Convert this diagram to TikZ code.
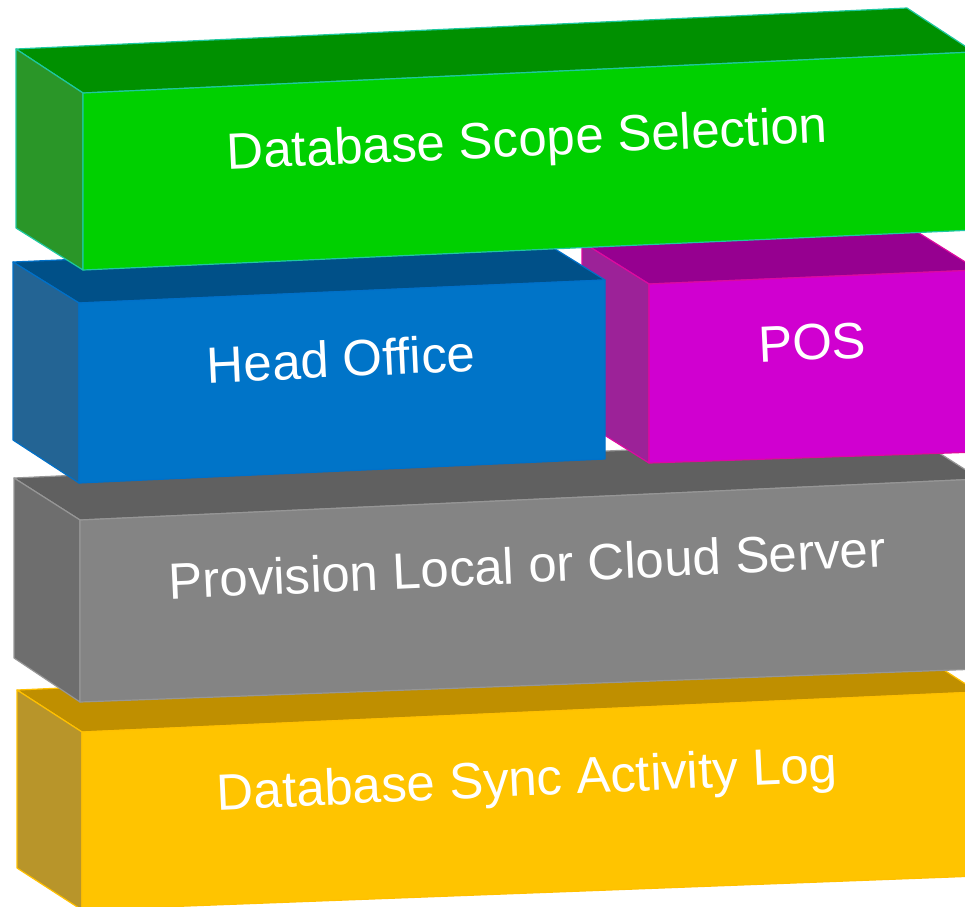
\documentclass[tikz,border=0pt]{standalone}
\usepackage{fontspec}
\setmainfont{Liberation Sans}
\definecolor{gTop}{RGB}{0,144,0}
\definecolor{gSide}{RGB}{42,150,40}
\definecolor{gFront}{RGB}{0,208,0}
\definecolor{gEdge}{RGB}{30,200,160}
\definecolor{bTop}{RGB}{0,80,136}
\definecolor{bSide}{RGB}{35,100,148}
\definecolor{bFront}{RGB}{0,116,200}
\definecolor{bEdge}{RGB}{0,112,200}
\definecolor{mTop}{RGB}{150,0,144}
\definecolor{mSide}{RGB}{156,34,152}
\definecolor{mFront}{RGB}{208,0,208}
\definecolor{mEdge}{RGB}{220,10,160}
\definecolor{kTop}{RGB}{96,96,96}
\definecolor{kSide}{RGB}{110,110,110}
\definecolor{kFront}{RGB}{132,132,132}
\definecolor{kEdge}{RGB}{150,150,150}
\definecolor{yTop}{RGB}{191,143,0}
\definecolor{ySide}{RGB}{184,149,42}
\definecolor{yFront}{RGB}{255,196,0}
\definecolor{yEdge}{RGB}{255,192,0}
\newcommand\slabfaces[5]{%
  \filldraw[slab, fill=#2, draw=#5] (#1BTL) -- (#1BTR) -- (#1FTR) -- (#1FTL) -- cycle;
  \filldraw[slab, fill=#3, draw=#5] (#1BTL) -- (#1FTL) -- (#1FBL) -- (#1BBL) -- cycle;
  \filldraw[slab, fill=#4, draw=#5] (#1FTL) -- (#1FTR) -- (#1FBR) -- (#1FBL) -- cycle;
}
\begin{document}
\begin{tikzpicture}[x=1pt,y=-1pt,
  slab/.style={line width=1.2pt, line join=round},
  lbl/.style={text=white, font=\fontsize{51}{60}\selectfont, rotate=2.6, anchor=base, inner sep=0pt}]
\clip (0,0) rectangle (965,906);
% yellow slab
\coordinate (yBTL) at (17,690);
\coordinate (yBTR) at (913,650);
\coordinate (yFTL) at (82,732);
\coordinate (yFTR) at (978,692);
\coordinate (yFBL) at (82,910);
\coordinate (yFBR) at (978,876);
\coordinate (yBBL) at (17,868);
\slabfaces{y}{yTop}{ySide}{yFront}{yEdge}
% gray slab
\coordinate (kBTL) at (14,478);
\coordinate (kBTR) at (914,437);
\coordinate (kFTL) at (80,520);
\coordinate (kFTR) at (980,479);
\coordinate (kFBL) at (80,702);
\coordinate (kFBR) at (980,669);
\coordinate (kBBL) at (14,658);
\slabfaces{k}{kTop}{kSide}{kFront}{kEdge}
% magenta slab
\coordinate (mBTL) at (582,242);
\coordinate (mBTR) at (911,228);
\coordinate (mFTL) at (649,284);
\coordinate (mFTR) at (978,270);
\coordinate (mFBL) at (649,463);
\coordinate (mFBR) at (978,452);
\coordinate (mBBL) at (582,421);
\slabfaces{m}{mTop}{mSide}{mFront}{mEdge}
% blue slab
\coordinate (bBTL) at (13,262);
\coordinate (bBTR) at (539,239);
\coordinate (bFTL) at (79,303);
\coordinate (bFTR) at (605,280);
\coordinate (bFBL) at (79,483);
\coordinate (bFBR) at (605,459);
\coordinate (bBBL) at (13,440);
\slabfaces{b}{bTop}{bSide}{bFront}{bEdge}
% green slab
\coordinate (gBTL) at (16,49);
\coordinate (gBTR) at (907,8);
\coordinate (gFTL) at (83,93);
\coordinate (gFTR) at (974,52);
\coordinate (gFBL) at (83,270);
\coordinate (gFBR) at (974,230);
\coordinate (gBBL) at (16,228);
\slabfaces{g}{gTop}{gSide}{gFront}{gEdge}
% labels
\node[lbl] (tScope) at (528,156) {Database Scope Selection};
\node[lbl] (tHead) at (342,377) {Head Office};
\node[lbl] (tPOS) at (813,360) {POS};
\node[lbl] (tProv) at (528,583) {Provision Local or Cloud Server};
\node[lbl] (tLog) at (528,796) {Database Sync Activity Log};
\end{tikzpicture}
\end{document}
